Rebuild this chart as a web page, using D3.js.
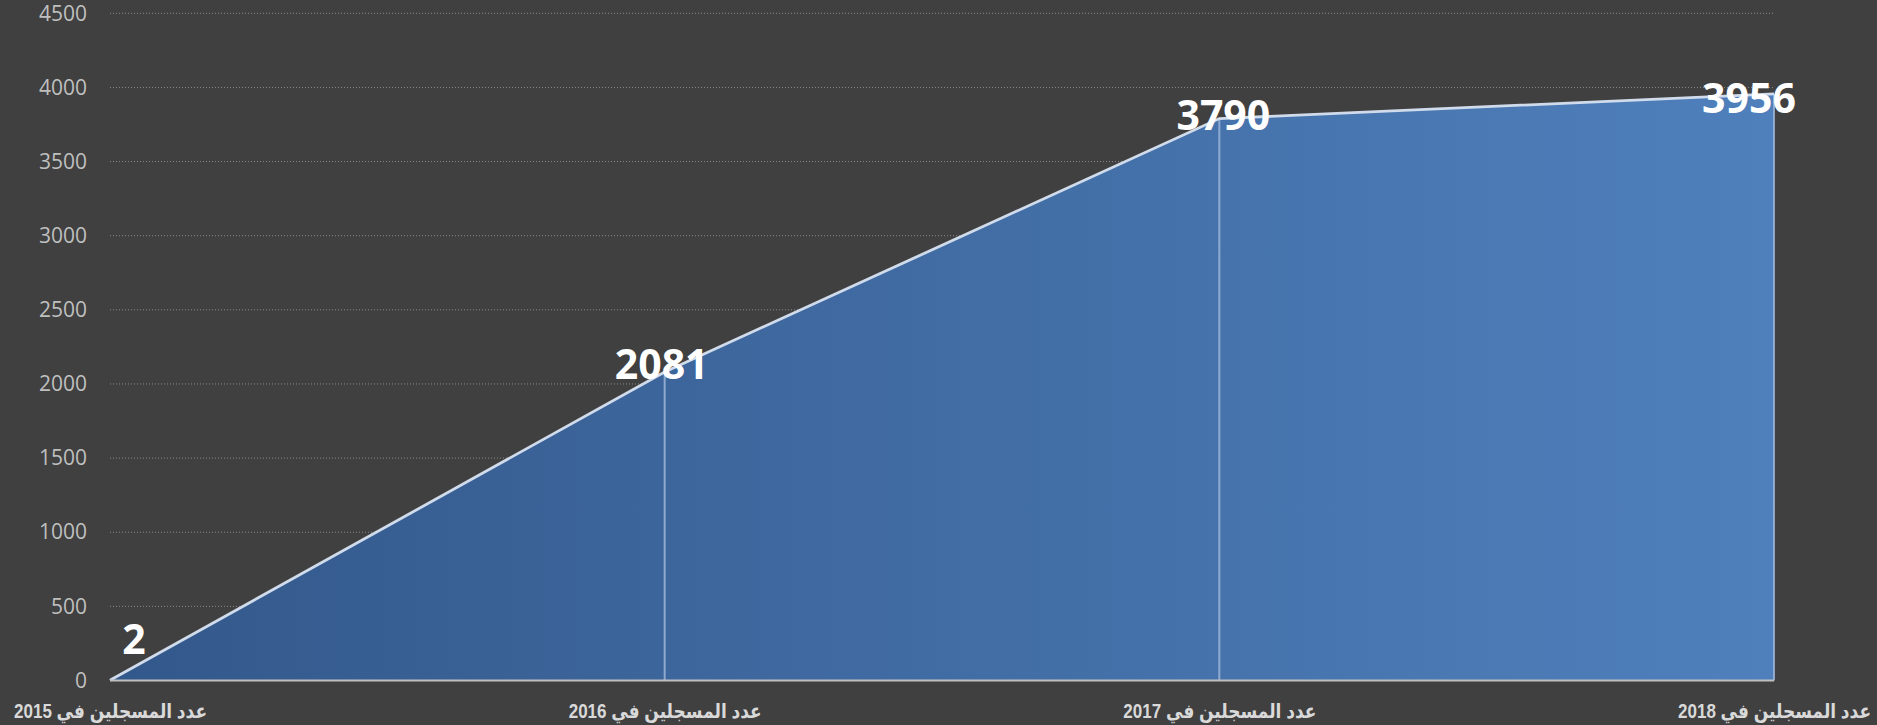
<!DOCTYPE html>
<html><head><meta charset="utf-8">
<script src="https://cdn.jsdelivr.net/npm/d3@7"></script>
<style>
html,body{margin:0;padding:0;background:#404040;}
svg{display:block;}
</style></head>
<body>
<script>
const categories = ["عدد المسجلين في 2015","عدد المسجلين في 2016","عدد المسجلين في 2017","عدد المسجلين في 2018"];
const values = [2, 2081, 3790, 3956];
const yTicks = [0,500,1000,1500,2000,2500,3000,3500,4000,4500];

(function(){
const W = 1877, H = 725;
const pLeft = 110, pRight = 1774, pTop = 13.3, pBottom = 680.5;

const svg = d3.select("body").append("svg").attr("width", W).attr("height", H);
svg.append("rect").attr("width", W).attr("height", H).attr("fill", "#404040");

const x = d3.scalePoint().domain(categories).range([pLeft, pRight]);
const y = d3.scaleLinear().domain([0, 4500]).range([pBottom, pTop]);

const defs = svg.append("defs");
const grad = defs.append("linearGradient").attr("id","g").attr("gradientUnits","userSpaceOnUse")
  .attr("x1", pLeft).attr("x2", pRight).attr("y1", 0).attr("y2", 0);
grad.append("stop").attr("offset","0").attr("stop-color","#33588b");
grad.append("stop").attr("offset","1").attr("stop-color","#4f80bc");

svg.append("g").selectAll("line").data(yTicks.filter(d => d > 0)).join("line")
  .attr("x1", pLeft).attr("x2", pRight)
  .attr("y1", d => y(d)).attr("y2", d => y(d))
  .attr("stroke", "#8a8a8a").attr("stroke-width", 1).attr("stroke-dasharray", "1,2");

const yAxis = d3.axisLeft(y).tickValues(yTicks).tickSize(0).tickPadding(0).tickFormat(d3.format("d"));
const ya = svg.append("g").attr("transform", `translate(87,0)`).call(yAxis);
ya.select(".domain").remove();
ya.selectAll("text").attr("fill", "#bfbfbf").style("font-family", "'Open Sans', sans-serif").style("font-size", "21px");

const pts = categories.map((c, i) => ({c, v: values[i]}));

const area = d3.area().x(d => x(d.c)).y0(y(0)).y1(d => y(d.v));
svg.append("path").datum(pts).attr("d", area).attr("fill", "url(#g)");

svg.append("g").selectAll("line").data(pts.slice(1)).join("line")
  .attr("x1", d => x(d.c)).attr("x2", d => x(d.c))
  .attr("y1", d => y(d.v)).attr("y2", y(0))
  .attr("stroke", "#9db5d8").attr("stroke-width", 2).attr("stroke-opacity", 0.85);

svg.append("path").datum(pts).attr("d", d3.line().x(d => x(d.c)).y(d => y(d.v)))
  .attr("fill", "none").attr("stroke", "#d0dbeb").attr("stroke-width", 2.8);

svg.append("line").attr("x1", pLeft).attr("x2", pRight).attr("y1", y(0)).attr("y2", y(0))
  .attr("stroke", "#bfbfbf").attr("stroke-width", 2);

const xAxis = d3.axisBottom(x).tickSize(0).tickPadding(0);
const xa = svg.append("g").call(xAxis);
xa.select(".domain").remove();
xa.selectAll("text")
  .attr("y", 718).attr("dy", null)
  .attr("direction", "rtl").style("direction","rtl")
  .attr("text-anchor", "middle")
  .attr("fill", "#d9d9d9")
  .attr("textLength", 193).attr("lengthAdjust", "spacingAndGlyphs")
  .style("font-family", "'Liberation Sans', Arial, 'DejaVu Sans', sans-serif")
  .style("font-weight", "bold").style("font-size", "20px");

const offs = [[24, -41], [-3, -8], [4, -3], [-25, 4]];
svg.append("g").selectAll("text").data(pts).join("text")
  .attr("x", (d, i) => x(d.c) + offs[i][0])
  .attr("y", (d, i) => y(d.v) + offs[i][1])
  .attr("dy", "0.36em")
  .attr("text-anchor", "middle")
  .attr("fill", "#ffffff")
  .style("font-family", "'Open Sans', sans-serif")
  .style("font-weight", "bold").style("font-size", "41px")
  .text(d => d.v);
})();
</script>
</body></html>
